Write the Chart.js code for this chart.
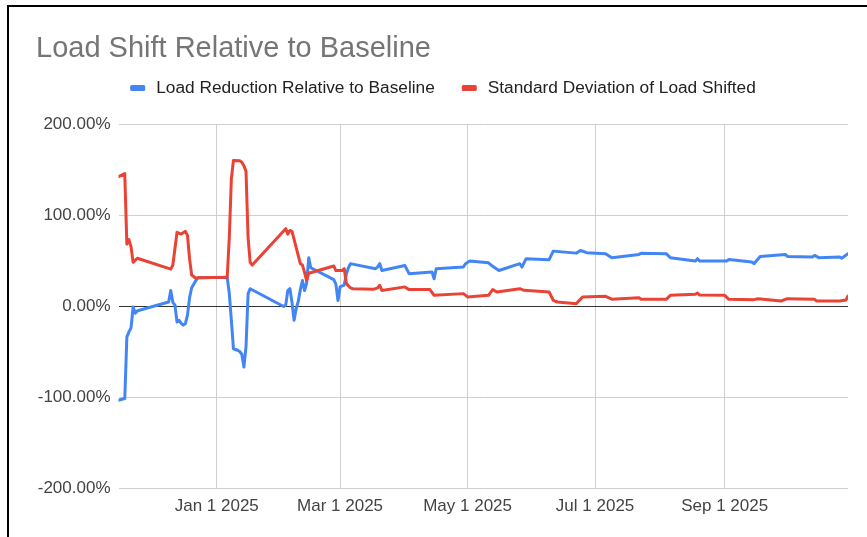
<!DOCTYPE html>
<html>
<head>
<meta charset="utf-8">
<script src="https://cdn.jsdelivr.net/npm/chart.js@4.4.1/dist/chart.umd.min.js"></script>
<style>
  html, body { margin: 0; padding: 0; background: #fff; overflow: hidden; }
  #wrap { position: relative; width: 867px; height: 537px; }
  #chart { position: absolute; left: 0; top: 0; }
  #frame {
    position: absolute; left: 7px; top: 5px; right: -10px; bottom: -10px;
    border-top: 2px solid #000; border-left: 2px solid #000; pointer-events: none;
  }
</style>
</head>
<body>
<div id="wrap">
  <canvas id="chart" width="867" height="537"></canvas>
  <div id="frame"></div>
</div>
<script>
const chartTitle = 'Load Shift Relative to Baseline';
const seriesNames = ['Load Reduction Relative to Baseline', 'Standard Deviation of Load Shifted'];
const seriesColors = ['#4285f4', '#ea4335'];

// Load reduction relative to baseline, percent
const reductionDates = [
  '2024-11-15','2024-11-18','2024-11-19','2024-11-20','2024-11-21','2024-11-22','2024-11-23','2024-11-24','2024-11-25',
  '2024-12-09','2024-12-10','2024-12-11','2024-12-12','2024-12-13','2024-12-14','2024-12-15','2024-12-16','2024-12-17',
  '2024-12-18','2024-12-19','2024-12-20','2024-12-21','2024-12-22','2024-12-23',
  '2025-01-06','2025-01-07','2025-01-08','2025-01-09','2025-01-11','2025-01-12','2025-01-13','2025-01-14','2025-01-15',
  '2025-01-16','2025-01-17',
  '2025-02-02','2025-02-03','2025-02-04','2025-02-05','2025-02-06','2025-02-07','2025-02-08','2025-02-09','2025-02-10',
  '2025-02-11','2025-02-12','2025-02-13','2025-02-14','2025-02-15','2025-02-26','2025-02-27','2025-02-28',
  '2025-03-01','2025-03-02','2025-03-03','2025-03-04','2025-03-05','2025-03-06','2025-03-07',
  '2025-03-18','2025-03-19','2025-03-20','2025-03-21',
  '2025-04-01','2025-04-03','2025-04-14','2025-04-15','2025-04-16','2025-04-29','2025-04-30',
  '2025-05-02','2025-05-11','2025-05-13','2025-05-16','2025-05-26','2025-05-27','2025-05-29',
  '2025-06-09','2025-06-11','2025-06-22','2025-06-24','2025-06-27',
  '2025-07-06','2025-07-09','2025-07-22','2025-07-23',
  '2025-08-04','2025-08-06','2025-08-18','2025-08-19','2025-08-20',
  '2025-09-02','2025-09-03','2025-09-14','2025-09-15','2025-09-18','2025-09-30',
  '2025-10-01','2025-10-13','2025-10-14','2025-10-16','2025-10-26','2025-10-27','2025-10-30'
];
const reductionValues = [
  -103.5, -101.6, -34, -28.5, -24, -1, -8, -5.5, -4.7,
  4.4, 17, 4, 1, -17.6, -15.7, -19, -21, -19.3,
  -10, 9, 20, 24, 28, 31,
  31.5, 14, -16, -47, -48.6, -50, -53, -67, -45,
  13.6, 19,
  -0.5, 1, 17, 19, 4, -15.7, -3, 5, 18,
  28, 17, 25, 53, 42, 29, 24, 6,
  21, 22, 23, 35, 42, 46.5, 46,
  41, 43, 46.5, 39,
  44.6, 35.5, 37.3, 30, 41, 42.8, 46.5,
  49.4, 47.5, 43.6, 39, 46.5, 42.8, 52,
  50.9, 60.3, 58.1, 61, 58.6,
  57.5, 53.1, 56.7, 58,
  57.5, 53.1, 49.4, 52, 49.5,
  49.4, 51, 48.3, 46.5, 54.5, 56.7,
  54.5, 53.8, 55.6, 53.1, 53.8, 52.5, 57.5
];

// Standard deviation of load shifted, percent
const stdDevDates = [
  '2024-11-15','2024-11-18','2024-11-19','2024-11-20','2024-11-21','2024-11-22','2024-11-24',
  '2024-12-10','2024-12-11','2024-12-13','2024-12-15','2024-12-17','2024-12-18','2024-12-19','2024-12-20',
  '2024-12-22','2024-12-23',
  '2025-01-06','2025-01-07','2025-01-08','2025-01-09','2025-01-12','2025-01-13','2025-01-14','2025-01-15',
  '2025-01-16','2025-01-17','2025-01-18',
  '2025-02-03','2025-02-04','2025-02-05','2025-02-06','2025-02-10','2025-02-11','2025-02-12','2025-02-13',
  '2025-02-14','2025-02-26','2025-02-27',
  '2025-03-02','2025-03-03','2025-03-04','2025-03-05','2025-03-06','2025-03-07','2025-03-17','2025-03-19',
  '2025-03-20','2025-03-21',
  '2025-04-01','2025-04-03','2025-04-13','2025-04-15','2025-04-29',
  '2025-05-01','2025-05-11','2025-05-13','2025-05-15','2025-05-26','2025-05-28',
  '2025-06-09','2025-06-11','2025-06-13','2025-06-22','2025-06-25',
  '2025-07-06','2025-07-09','2025-07-22','2025-07-23',
  '2025-08-04','2025-08-06','2025-08-18','2025-08-19','2025-08-20',
  '2025-09-01','2025-09-03','2025-09-15','2025-09-17','2025-09-28',
  '2025-10-01','2025-10-14','2025-10-15','2025-10-26','2025-10-29','2025-10-30'
];
const stdDevValues = [
  142, 145.5, 68, 73, 65, 48, 52.5,
  40.5, 45, 81, 79, 82, 77.6, 52, 34,
  30.5, 31,
  31.5, 75, 140, 160, 159.5, 158, 154, 148,
  75, 48, 45,
  85, 79, 83, 82, 46.5, 45, 37, 28,
  36, 44, 39,
  39, 41, 25, 22, 20, 19, 18.3, 20,
  22.7, 17,
  21, 18, 18, 11.7, 13.6,
  10, 11.7, 18, 15.4, 19, 17.2,
  15.4, 6.3, 4.4, 2.6, 9.9,
  10.6, 7.5, 9.2, 7.3,
  7.3, 11.7, 12.8, 14.3, 12,
  11.7, 7.3, 7, 8, 5.5,
  8.1, 7.3, 5.5, 5.5, 6.5, 11
];

const xRange = ['2024-11-15', '2025-10-30'];
const xTickDates = ['2025-01-01', '2025-03-01', '2025-05-01', '2025-07-01', '2025-09-01'];
const xTickLabels = ['Jan 1 2025', 'Mar 1 2025', 'May 1 2025', 'Jul 1 2025', 'Sep 1 2025'];
const yTickValues = [-200, -100, 0, 100, 200];

const FONT = '"Liberation Sans", Arial, Helvetica, sans-serif';

function dayNumber(iso) {
  const [y, m, d] = iso.split('-').map(Number);
  return Date.UTC(y, m - 1, d) / 86400000;
}
function toPoints(dates, values) {
  return dates.map((d, i) => ({ x: dayNumber(d), y: values[i] }));
}

// Title and legend drawn above the plot area
const headerPlugin = {
  id: 'header',
  afterDraw(chart) {
    const ctx = chart.ctx;
    ctx.save();
    ctx.textAlign = 'left';
    ctx.textBaseline = 'alphabetic';
    ctx.font = '29px ' + FONT;
    ctx.fillStyle = '#757575';
    ctx.fillText(chartTitle, 36, 57);

    ctx.font = '17.3px ' + FONT;
    ctx.textBaseline = 'middle';
    const swatchW = 15, swatchH = 6, gap = 11, itemGap = 27, centerX = 443, y = 88;
    const items = chart.data.datasets.map(ds => ({
      text: ds.label, color: ds.borderColor, w: ctx.measureText(ds.label).width
    }));
    const total = items.reduce((s, it) => s + swatchW + gap + it.w, 0) + itemGap * (items.length - 1);
    let x = centerX - total / 2;
    items.forEach(it => {
      ctx.fillStyle = it.color;
      ctx.beginPath();
      ctx.roundRect(x, y - swatchH / 2, swatchW, swatchH, 1.5);
      ctx.fill();
      x += swatchW + gap;
      ctx.fillStyle = '#222';
      ctx.fillText(it.text, x, y);
      x += it.w + itemGap;
    });
    ctx.restore();
  }
};

Chart.defaults.font.family = FONT;

new Chart(document.getElementById('chart'), {
  type: 'line',
  data: {
    datasets: [
      {
        label: seriesNames[0],
        data: toPoints(reductionDates, reductionValues),
        borderColor: seriesColors[0],
        backgroundColor: seriesColors[0],
        borderWidth: 3,
        pointRadius: 0,
        tension: 0,
        borderJoinStyle: 'round',
        borderCapStyle: 'round',
        order: 1
      },
      {
        label: seriesNames[1],
        data: toPoints(stdDevDates, stdDevValues),
        borderColor: seriesColors[1],
        backgroundColor: seriesColors[1],
        borderWidth: 3,
        pointRadius: 0,
        tension: 0,
        borderJoinStyle: 'round',
        borderCapStyle: 'round',
        order: 0
      }
    ]
  },
  options: {
    responsive: false,
    animation: false,
    devicePixelRatio: 1,
    layout: { padding: { top: 124, left: 0, right: 19, bottom: 0 } },
    plugins: {
      legend: { display: false },
      title: { display: false },
      tooltip: { enabled: false }
    },
    scales: {
      x: {
        type: 'linear',
        min: dayNumber(xRange[0]),
        max: dayNumber(xRange[1]),
        afterBuildTicks: scale => { scale.ticks = xTickDates.map(d => ({ value: dayNumber(d) })); },
        afterFit: scale => { scale.height = 49; },
        border: { display: false },
        grid: { color: '#cfcfcf', lineWidth: 1, drawTicks: false },
        ticks: {
          autoSkip: false,
          maxRotation: 0,
          padding: 8,
          color: '#444',
          font: { size: 17 },
          callback: (value, index) => xTickLabels[index]
        }
      },
      y: {
        type: 'linear',
        min: -200,
        max: 200,
        afterBuildTicks: scale => { scale.ticks = yTickValues.map(v => ({ value: v })); },
        afterFit: scale => { scale.width = 118.5; },
        border: { display: false },
        grid: {
          drawTicks: false,
          lineWidth: 1,
          color: c => (c.tick && c.tick.value === 0 ? '#333' : '#cfcfcf')
        },
        ticks: {
          padding: 8,
          color: '#444',
          font: { size: 17 },
          callback: value => value.toFixed(2) + '%'
        }
      }
    }
  },
  plugins: [headerPlugin]
});
</script>
</body>
</html>
